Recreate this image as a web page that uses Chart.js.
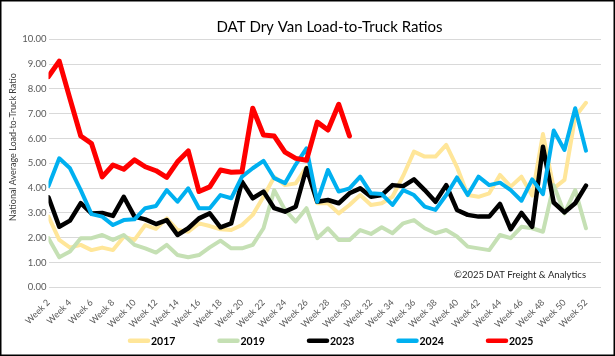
<!DOCTYPE html>
<html><head><meta charset="utf-8">
<script src="https://cdn.jsdelivr.net/npm/chart.js@4.4.1/dist/chart.umd.min.js"></script>
<style>html,body{margin:0;padding:0;background:#fff;overflow:hidden}</style>
</head><body>
<canvas id="c" width="615" height="356" style="display:block;width:615px;height:356px"></canvas>
<script>
const weeks = [2,3,4,5,6,7,8,9,10,11,12,13,14,15,16,17,18,19,20,21,22,23,24,25,26,27,28,29,30,31,32,33,34,35,36,37,38,39,40,41,42,43,44,45,46,47,48,49,50,51,52];
const xTickWeeks = [2,4,6,8,10,12,14,16,18,20,22,24,26,28,30,32,34,36,38,40,42,44,46,48,50,52];
const yTicks = [0,1,2,3,4,5,6,7,8,9,10];
const seriesNames = ['2017','2019','2023','2024','2025'];
const v2017 = [2.85,1.91,1.6,1.71,1.5,1.6,1.5,2.04,1.91,2.51,2.36,2.78,2.31,2.24,2.58,2.47,2.34,2.31,2.51,2.92,3.65,4.45,4.12,4.19,4.85,3.39,3.39,2.98,3.32,3.72,3.32,3.39,3.65,4.5,5.47,5.27,5.27,5.74,4.85,3.72,3.65,3.79,4.53,4.06,4.46,3.7,6.18,3.99,4.33,6.88,7.44];
const v2019 = [1.98,1.21,1.44,1.98,1.98,2.11,1.91,2.11,1.71,1.57,1.4,1.71,1.3,1.21,1.3,1.61,1.88,1.57,1.57,1.71,2.38,3.92,3.12,2.65,3.19,1.98,2.38,1.91,1.91,2.31,2.15,2.42,2.18,2.58,2.71,2.38,2.18,2.31,2.05,1.64,1.57,1.5,2.11,1.98,2.44,2.38,2.24,4.12,2.98,3.92,2.38];
const v2023 = [3.63,2.44,2.69,3.39,2.98,3.0,2.88,3.65,2.85,2.74,2.55,2.71,2.11,2.38,2.78,2.98,2.42,2.58,4.26,3.59,3.86,3.19,3.05,3.25,4.8,3.45,3.52,3.39,3.79,3.99,3.65,3.72,4.12,4.08,4.35,3.92,3.45,4.12,3.12,2.92,2.85,2.85,3.36,2.34,3.0,2.44,5.67,3.42,3.02,3.39,4.1];
const v2024 = [4.08,5.2,4.8,3.92,2.95,2.85,2.51,2.71,2.74,3.19,3.28,3.92,3.45,3.99,3.19,3.19,3.72,3.59,4.46,4.8,5.1,4.4,4.2,4.95,5.6,3.45,4.73,3.86,3.99,4.46,3.79,3.76,3.32,3.92,3.72,3.25,3.12,3.72,4.43,3.72,4.46,4.12,4.22,3.92,3.49,4.35,3.76,6.32,5.54,7.22,5.51];
const v2025 = [8.5,9.12,7.6,6.1,5.8,4.45,4.93,4.76,5.14,4.86,4.7,4.43,5.06,5.5,3.86,4.05,4.73,4.64,4.66,7.22,6.14,6.1,5.45,5.2,5.12,6.66,6.34,7.38,6.1];

const colors = ['#FFE699','#C5E0B4','#000000','#00B0F0','#FF0000'];
const widths = [4,4,4.5,4,5];
const allValues = [v2017,v2019,v2023,v2024,v2025];
const FONT = 'Lato, "Open Sans", sans-serif';

const datasets = allValues.map((vals,k)=>({
  label: seriesNames[k],
  data: vals.map((v,i)=>({x: weeks[i], y: v})),
  borderColor: colors[k],
  backgroundColor: colors[k],
  borderWidth: widths[k],
  pointRadius: 0,
  tension: 0,
  borderJoinStyle: 'round',
  borderCapStyle: 'round',
  order: 5-k
}));

const decor = {
  id: 'decor',
  afterDraw(chart){
    const ctx = chart.ctx;
    ctx.save();
    // title
    ctx.fillStyle = '#000';
    ctx.font = '15px ' + FONT;
    ctx.textAlign = 'center'; ctx.textBaseline = 'middle';
    ctx.fillText('DAT Dry Van Load-to-Truck Ratios', 329.5, 27.5);
    // y title
    ctx.save();
    ctx.translate(13, 147);
    ctx.rotate(-Math.PI/2);
    ctx.fillStyle = '#404040';
    ctx.font = '9px ' + FONT;
    ctx.fillText('National Average Load-to-Truck Ratio', 0, 0);
    ctx.restore();
    // copyright
    ctx.fillStyle = '#262626';
    ctx.font = '9.5px ' + FONT;
    ctx.textAlign = 'right';
    ctx.fillText('\u00A92025 DAT Freight & Analytics', 586, 275);
    // legend
    ctx.font = 'bold 10.5px ' + FONT;
    ctx.textAlign = 'left';
    for (let k=0;k<seriesNames.length;k++){
      const x0 = 128 + k*89.5, y0 = 340.7;
      ctx.strokeStyle = colors[k];
      ctx.lineWidth = 4.5;
      ctx.lineCap = 'round';
      ctx.beginPath(); ctx.moveTo(x0+2, y0); ctx.lineTo(x0+20, y0); ctx.stroke();
      ctx.fillStyle = '#000';
      ctx.fillText(seriesNames[k], x0+23, y0+0.5);
    }
    // frame
    ctx.strokeStyle = '#000';
    ctx.lineWidth = 1.5;
    ctx.strokeRect(0.75, 0.75, 613.5, 354.5);
    ctx.restore();
  }
};

new Chart(document.getElementById('c'), {
  type: 'line',
  data: { datasets },
  plugins: [decor],
  options: {
    responsive: false,
    animation: false,
    devicePixelRatio: 1,
    layout: { padding: { left: 0, top: 39.3, right: 14, bottom: 0 } },
    plugins: { legend: { display: false }, title: { display: false }, tooltip: { enabled: false } },
    scales: {
      x: {
        type: 'linear',
        min: 2, max: 53.4,
        afterBuildTicks(s){ s.ticks = xTickWeeks.map(v=>({value:v})); },
        afterFit(s){ s.height = 356 - 287.3; },
        grid: { display: false },
        border: { display: false },
        ticks: {
          autoSkip: false, minRotation: 45, maxRotation: 45, padding: 2,
          color: '#595959', font: { family: FONT, size: 9 },
          callback: v => 'Week ' + v
        }
      },
      y: {
        min: 0, max: 10,
        afterBuildTicks(s){ s.ticks = yTicks.map(v=>({value:v})); },
        afterFit(s){ s.width = 48.5; },
        grid: { color: '#D9D9D9', lineWidth: 1, drawTicks: false },
        border: { display: false },
        ticks: {
          padding: 2, color: '#595959', font: { family: FONT, size: 9.5 },
          callback: v => Number(v).toFixed(2)
        }
      }
    }
  }
});
</script>
</body></html>
